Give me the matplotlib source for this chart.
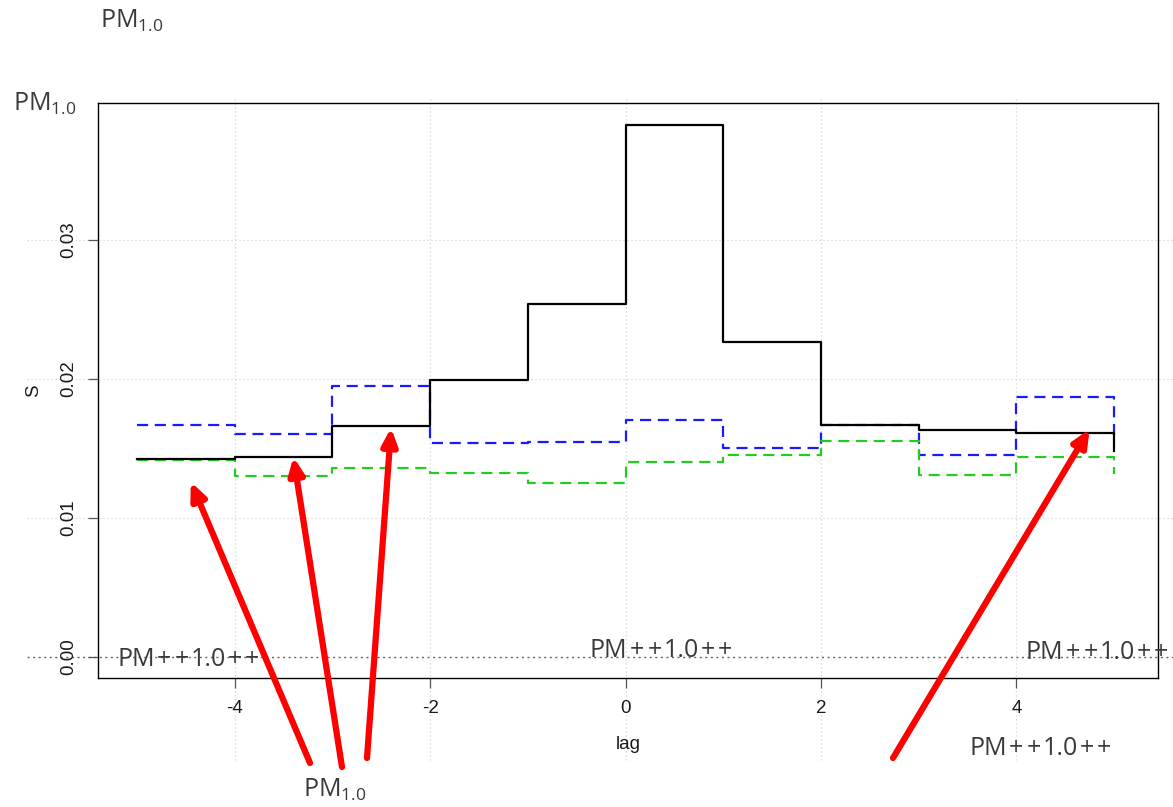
import matplotlib

matplotlib.use("Agg")
import matplotlib.pyplot as plt

# lag positions and step values (type="s" style, one value per lag)
lags = [-5, -4, -3, -2, -1, 0, 1, 2, 3, 4, 5]
s_obs = [0.01424, 0.01439, 0.01662, 0.01993, 0.0254, 0.0383,
         0.02266, 0.01669, 0.01633, 0.01612, 0.0148]
s_upper = [0.01669, 0.01604, 0.0195, 0.0154, 0.01547, 0.01705,
           0.01504, 0.01669, 0.01453, 0.0187, 0.0160]
s_lower = [0.01417, 0.0130, 0.0136, 0.01324, 0.01252, 0.01403,
           0.01453, 0.01554, 0.0131, 0.0144, 0.0132]

x_ticks = [-4, -2, 0, 2, 4]
y_ticks = [0.00, 0.01, 0.02, 0.03]
y_tick_labels = ["0.00", "0.01", "0.02", "0.03"]

# arrow tips in data coords, tails in figure pixels (top-left origin)
arrow_tips = [(-4.45, 0.0126), (-3.4, 0.0144), (-2.4, 0.0165), (4.75, 0.0164)]
arrow_tails = [(310, 763), (342, 767), (367, 758), (893, 758)]

W, H = 1173, 807
plt.rcParams["mathtext.fontset"] = "custom"
plt.rcParams["mathtext.rm"] = "Open Sans"
plt.rcParams["mathtext.default"] = "regular"

fig = plt.figure(figsize=(W / 100, H / 100), dpi=100)
ax = fig.add_axes([98 / W, 1 - 678 / H, 1060 / W, 575 / H])
ax.set_xlim(-5.4, 5.45)
ax.set_ylim(-0.00151, 0.03986)

# R-style grid, spilling past the plot box
grid_kw = dict(color="#d2d2d2", lw=0.9, ls=(0, (1, 2.2)), clip_on=False, zorder=0)
for xv in x_ticks:
    ax.plot([xv, xv], [-0.1426, 1.0104], transform=ax.get_xaxis_transform(), **grid_kw)
for yv in y_ticks[1:]:
    ax.plot([-0.067, 1.068], [yv, yv], transform=ax.get_yaxis_transform(), **grid_kw)
ax.plot([-0.067, 1.068], [0, 0], transform=ax.get_yaxis_transform(),
        color="#666666", lw=1.0, ls=(0, (1.5, 2.5)), clip_on=False, zorder=1)

ax.plot(lags, s_upper, drawstyle="steps-post", color="#1a1aff", lw=1.6,
        ls=(0, (5, 3)), zorder=2)
ax.plot(lags, s_lower, drawstyle="steps-post", color="#22cc22", lw=1.6,
        ls=(0, (5, 3)), zorder=2)
ax.plot(lags, s_obs, drawstyle="steps-post", color="black", lw=1.6, zorder=3)

for sp in ax.spines.values():
    sp.set_linewidth(1.0)
ax.set_xticks(x_ticks)
ax.set_xticklabels([str(v) for v in x_ticks])
ax.set_yticks(y_ticks)
ax.set_yticklabels(y_tick_labels, rotation=90, va="center")
ax.tick_params(length=7, width=0.9, color="#555555", labelsize=13.5,
               labelcolor="#1a1a1a")
ax.tick_params(axis="x", pad=8.5)
ax.tick_params(axis="y", pad=8)
for lab in ax.get_xticklabels() + ax.get_yticklabels():
    lab.set_family("Liberation Sans")

ax.set_xlabel("lag", family="Liberation Sans", fontsize=13.5, color="#1a1a1a")
ax.xaxis.set_label_coords(0.5, -0.1165)
ax.xaxis.label.set_va("center")
ax.set_ylabel("S", family="Liberation Sans", fontsize=13.5, color="#1a1a1a")
ax.yaxis.set_label_coords(-0.061, 0.5)
ax.yaxis.label.set_va("center")

# annotation texts (left x, baseline y in pixels from top-left)
pm = r"PM$_{1.0}$"
pmp = "PM++1.0++"
labels = [
    (pm, 100, 28), (pm, 13, 111), (pmp, 117, 666), (pmp, 590, 657),
    (pmp, 1026, 659), (pmp, 969, 755), (pm, 303, 797),
]
txt_kw = dict(family="Open Sans", fontsize=18, color="#3a3a3a",
              ha="left", va="baseline")
renderer = fig.canvas.get_renderer()


def spaced_text(s, lx, by, extra=1.8):
    # the source font draws wider "+" signs, so lay out piece by piece
    x = lx
    pieces = []
    for ch in s:
        if ch == "+" or not pieces or pieces[-1] == "+" or pieces[-1][-1] == "+":
            pieces.append(ch)
        else:
            pieces[-1] += ch
    for piece in pieces:
        pad = extra if piece == "+" else 0.0
        t = fig.text((x + pad) / W, 1 - by / H, piece, **txt_kw)
        x += t.get_window_extent(renderer).width + 2 * pad


for txt, lx, by in labels:
    if "+" in txt:
        spaced_text(txt, lx, by)
    else:
        fig.text(lx / W, 1 - by / H, txt, **txt_kw)

for (tx, ty), (px, py) in zip(arrow_tips, arrow_tails):
    ax.annotate("", xy=(tx, ty), xycoords="data",
                xytext=(px, H - py), textcoords="figure pixels",
                arrowprops=dict(arrowstyle="-|>,head_length=1.0,head_width=0.45",
                                color="#ff0000", lw=4.5, shrinkA=0, shrinkB=0),
                annotation_clip=False, zorder=5)

fig.savefig("out.png", dpi=100)
